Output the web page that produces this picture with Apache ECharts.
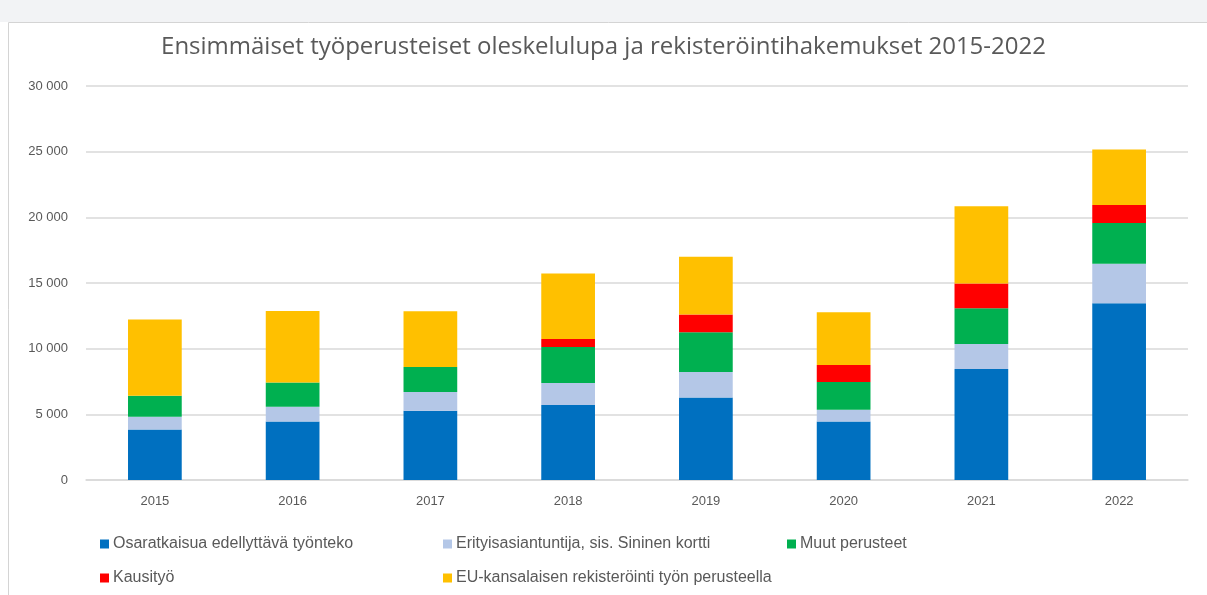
<!DOCTYPE html>
<html>
<head>
<meta charset="utf-8">
<script src="https://cdn.jsdelivr.net/npm/echarts@6/dist/echarts.min.js"></script>
<style>
  html, body { margin: 0; padding: 0; background: #fff; }
  #myChart { width: 1207px; height: 595px; }
</style>
</head>
<body>
<div id="myChart"></div>
<script>
var years = ["2015", "2016", "2017", "2018", "2019", "2020", "2021", "2022"];
var osaratkaisu = [3850, 4450, 5270, 5720, 6280, 4450, 8460, 13450];
var erityis = [960, 1120, 1440, 1670, 1950, 890, 1900, 3010];
var muut = [1600, 1850, 1900, 2740, 3020, 2130, 2710, 3110];
var kausityo = [0, 0, 0, 610, 1360, 1290, 1900, 1370];
var euKansalainen = [5820, 5440, 4230, 4990, 4380, 4010, 5870, 4230];

var seriesNames = [
  "Osaratkaisua edellyttävä työnteko",
  "Erityisasiantuntija, sis. Sininen kortti",
  "Muut perusteet",
  "Kausityö",
  "EU-kansalaisen rekisteröinti työn perusteella"
];
var colors = ["#0070c0", "#b4c7e7", "#00b050", "#ff0000", "#ffc000"];
var values = [osaratkaisu, erityis, muut, kausityo, euKansalainen];

var font = "'Liberation Sans', 'DejaVu Sans', sans-serif";

// legend positions (one legend per item, like the excel layout)
var legendPos = [[95, 531], [438, 531], [782, 531], [95, 565], [438, 565]];

var myChart = echarts.init(document.getElementById("myChart"));

var option = {
  animation: false,
  color: colors,
  title: {
    text: "Ensimmäiset työperusteiset oleskelulupa ja rekisteröintihakemukset 2015-2022",
    left: "center",
    top: 30,
    textStyle: {
      fontFamily: "'Open Sans', 'Liberation Sans', sans-serif",
      fontWeight: "normal",
      fontSize: 24,
      color: "#595959"
    }
  },
  graphic: [
    {
      type: "rect",
      shape: { x: 0, y: 0, width: 1207, height: 22 },
      style: { fill: "#f2f3f5" },
      silent: true
    },
    {
      type: "rect",
      shape: { x: 8.5, y: 22.5, width: 1220, height: 600 },
      style: { fill: "none", stroke: "#d4d4d4", lineWidth: 1 },
      silent: true
    }
  ],
  legend: seriesNames.map(function (name, i) {
    return {
      data: [name],
      left: legendPos[i][0],
      top: legendPos[i][1],
      icon: "rect",
      itemWidth: 9,
      itemHeight: 9,
      itemGap: 4,
      textStyle: { fontFamily: font, fontSize: 16, color: "#595959", padding: [0, 0, 0, -1] }
    };
  }),
  grid: {
    left: 86,
    right: 19,
    top: 86,
    bottom: 115
  },
  xAxis: {
    type: "category",
    data: years,
    axisLine: { lineStyle: { color: "#d9d9d9", width: 1.5 } },
    axisTick: { show: false },
    axisLabel: { fontFamily: font, fontSize: 13, color: "#595959", margin: 15 }
  },
  yAxis: {
    type: "value",
    min: 0,
    max: 30000,
    interval: 5000,
    axisLine: { show: false },
    axisTick: { show: false },
    splitLine: { lineStyle: { color: "#d9d9d9", width: 1.5 } },
    axisLabel: {
      fontFamily: font,
      fontSize: 13,
      color: "#595959",
      margin: 18,
      formatter: function (v) {
        return String(v).replace(/\B(?=(\d{3})+(?!\d))/g, " ");
      }
    }
  },
  series: seriesNames.map(function (name, i) {
    return {
      name: name,
      type: "bar",
      stack: "total",
      barWidth: "39%",
      data: values[i],
      itemStyle: { color: colors[i] }
    };
  })
};
myChart.setOption(option);
</script>
</body>
</html>
